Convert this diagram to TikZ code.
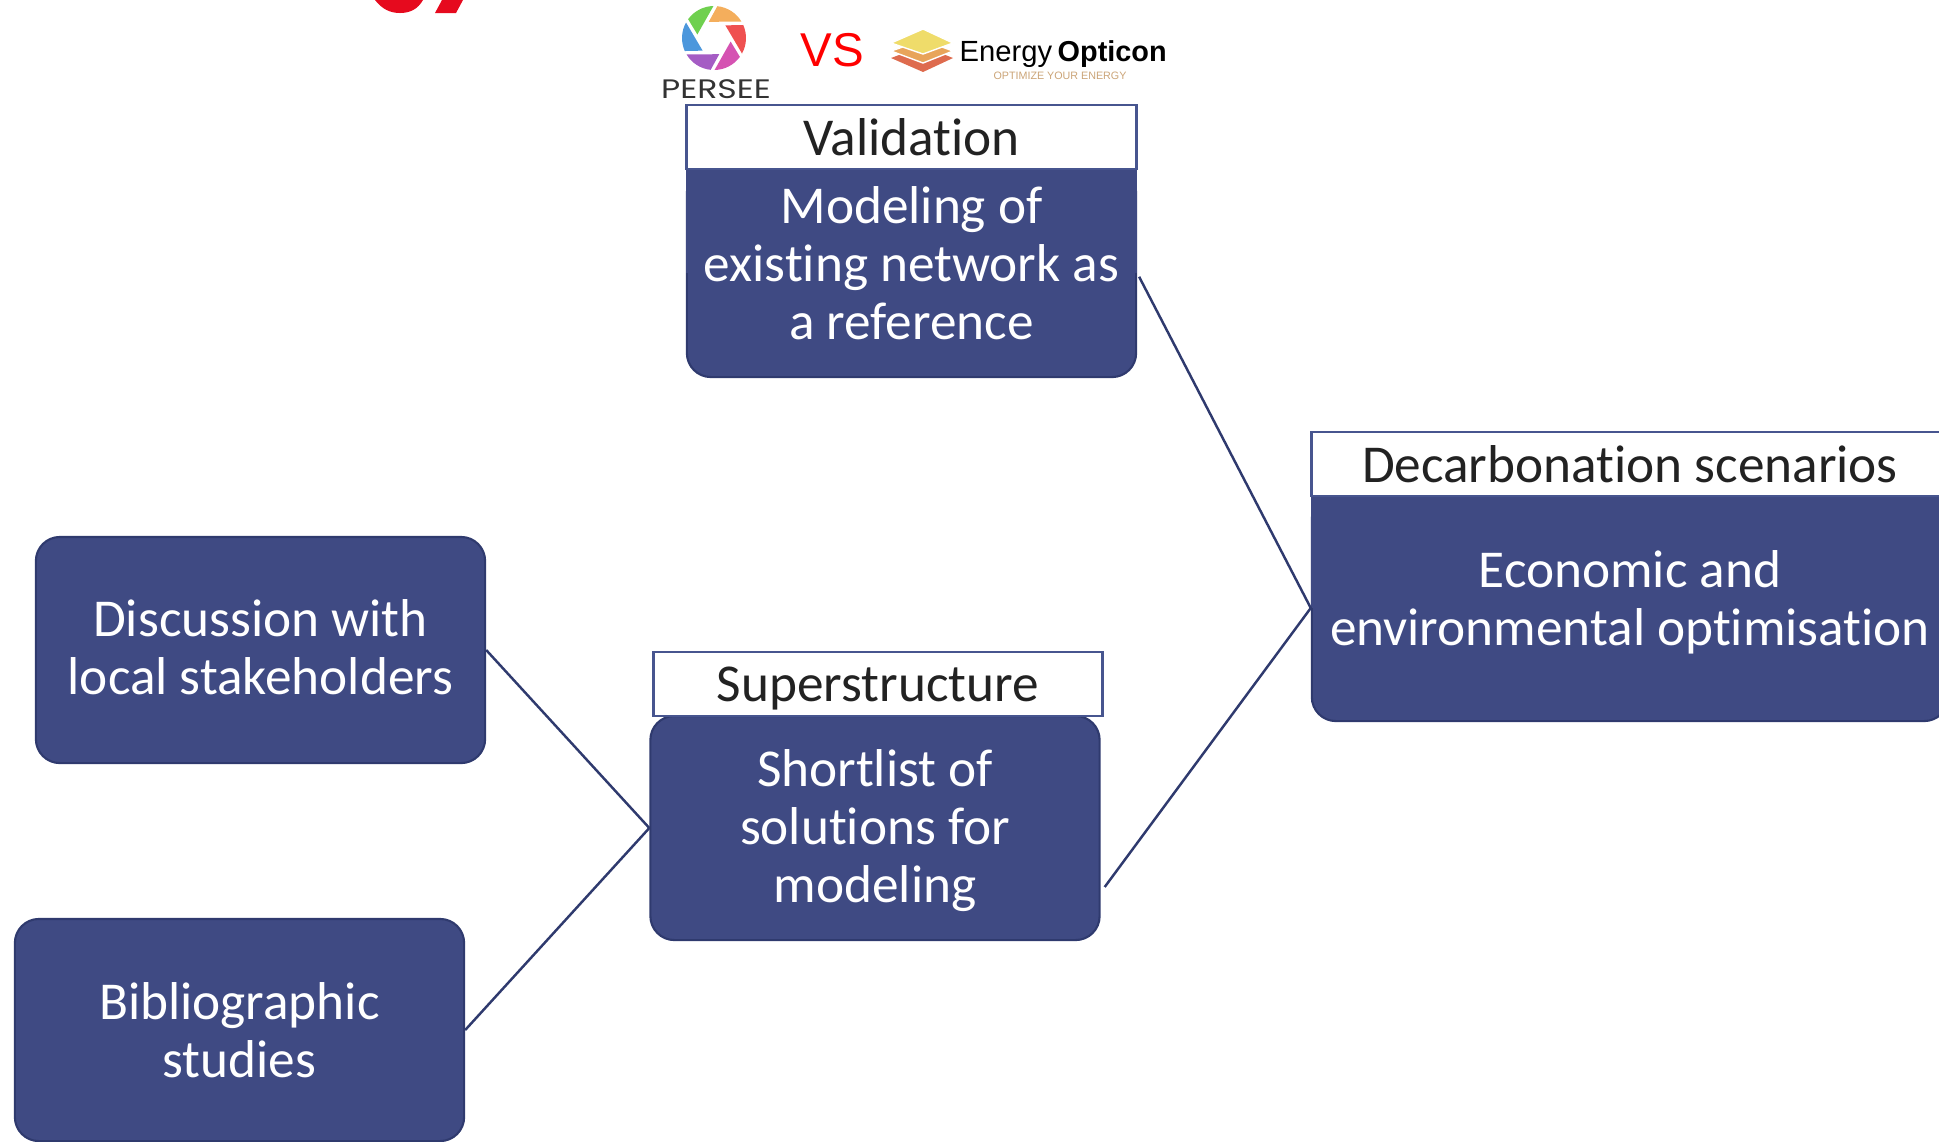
\documentclass[tikz,border=0pt]{standalone}
\usepackage{fontspec}
\setmainfont{Carlito}[Ligatures=NoCommon]
\newfontfamily\logofont{Liberation Sans}
\newfontfamily\perseefont{Poppins}
\usepackage{xcolor}
\usetikzlibrary{calc}
\definecolor{boxblue}{HTML}{3F4A83}
\definecolor{boxedge}{HTML}{2F3A6E}
\definecolor{headedge}{HTML}{47558F}
\definecolor{darktext}{HTML}{222222}
\definecolor{logored}{HTML}{E60A1E}
\definecolor{layertop}{HTML}{EFDC6A}
\definecolor{layermid}{HTML}{E8A45A}
\definecolor{layerlow}{HTML}{DE6B4E}
\definecolor{tagtan}{HTML}{CBA477}
\tikzset{
  bodytext/.style={align=center,text=white,inner sep=0pt,font=\fontsize{15.15}{16.55}\selectfont},
  bodybox/.style={fill=boxblue,draw=boxedge,line width=0.6pt,rounded corners=0.24cm,inner sep=0pt,minimum width=4.49cm},
  headbox/.style={fill=white,draw=headedge,line width=0.8pt,inner sep=0pt,minimum width=4.49cm,minimum height=0.64cm,
    text depth=0pt,text=darktext,font=\fontsize{15.15}{17}\selectfont},
  linkline/.style={draw=boxedge,line width=0.7pt},
}
\begin{document}
\begin{tikzpicture}[x=0.01cm,y=-0.01cm]
\useasboundingbox (0,0) rectangle (1939,1141);

% Cut off title
\fill[logored] (375,0) .. controls (382,9) and (390,13) .. (400,13) .. controls (410,13) and (418,9) .. (423,0) -- cycle;
\fill[logored] (442,0) -- (463,0) -- (456,13) -- (435,13) -- cycle;

% Persee logo
\begin{scope}[shift={(714,38)},y=0.01cm]
\foreach \ang/\col in {0/F4AE5C,60/6FD04F,120/4C97DC,180/A55CC4,240/D552B2,300/EF5050}{
  \definecolor{bladecol}{HTML}{\col}
  \fill[bladecol,rotate=\ang] (84:32) arc (84:31:32) -- (108:17) -- cycle;
}
\end{scope}
\node[inner sep=0pt,text=black!80,font=\perseefont\fontsize{7.6}{8}\selectfont] (persee) at (716,89) {\scalebox{1.24}[1]{PERSEE}};

% VS and Energy Opticon logo
\node[inner sep=0pt,text=red,font=\logofont\fontsize{13.5}{16}\selectfont] (vs) at (832.5,50) {VS};
\fill[layerlow] (891,58) -- (923,46) -- (953,58) -- (923,72) -- cycle;
\filldraw[draw=white,fill=layermid] (891,51) -- (923,40) -- (953,51) -- (923,63) -- cycle;
\filldraw[draw=white,fill=layertop] (891,43) -- (923,29) -- (953,43) -- (923,54) -- cycle;
\node[inner sep=0pt,anchor=base west,font=\logofont\fontsize{8.3}{9}\selectfont] (energy) at (959,61) {Energy};
\node[inner sep=0pt,anchor=base west,font=\logofont\bfseries\fontsize{8.2}{9}\selectfont] (opticon) at (1057,61) {Opticon};
\node[inner sep=0pt,text=tagtan,font=\logofont\fontsize{3.05}{3.2}\selectfont] (tagline) at (1060,76) {OPTIMIZE YOUR ENERGY};

% Boxes
\node[bodybox,minimum height=2.08cm] (model) at (911.5,273) {};
\fill[boxblue] (model.north west) rectangle (model.east);
\node[bodytext] (modeltext) at ($(model)+(0,-10)$) {Modeling of\\existing network as\\a reference};
\node[headbox] (validation) at (911.5,137) {Validation};

\node[bodybox,minimum width=6.36cm,minimum height=2.26cm] (optim) at (1630,608) {};
\fill[boxblue] (optim.north west) rectangle (optim.east);
\node[bodytext] (optimtext) at ($(optim)+(0,-6)$) {Economic and\\environmental optimisation};
\node[headbox,minimum width=6.36cm] (scenarios) at (1630,464) {Decarbonation scenarios};

\node[bodybox,minimum height=2.24cm] (shortlist) at (875,828) {};
\node[bodytext] (shortlisttext) at ($(shortlist)+(0,2.5)$) {Shortlist of\\solutions for\\modeling};
\node[headbox] (superstructure) at (878,684) {Superstructure};

\node[bodybox,minimum height=2.26cm] (discussion) at (260.5,650) {};
\node[bodytext] (discussiontext) at ($(discussion)+(0,-2.5)$) {Discussion with\\local stakeholders};
\node[bodybox,minimum height=2.22cm] (biblio) at (239.5,1030) {};
\node[bodytext] (bibliotext) at (biblio) {Bibliographic\\studies};

% Connectors
\coordinate (shortlow) at ($(shortlist.east)+(4,59)$);
\draw[linkline,shorten <=1.2pt] (model.east) -- (optim.west);
\draw[linkline] (shortlow) -- (optim.west);
\draw[linkline] (discussion.east) -- (shortlist.west);
\draw[linkline] (biblio.east) -- (shortlist.west);
\end{tikzpicture}
\end{document}
